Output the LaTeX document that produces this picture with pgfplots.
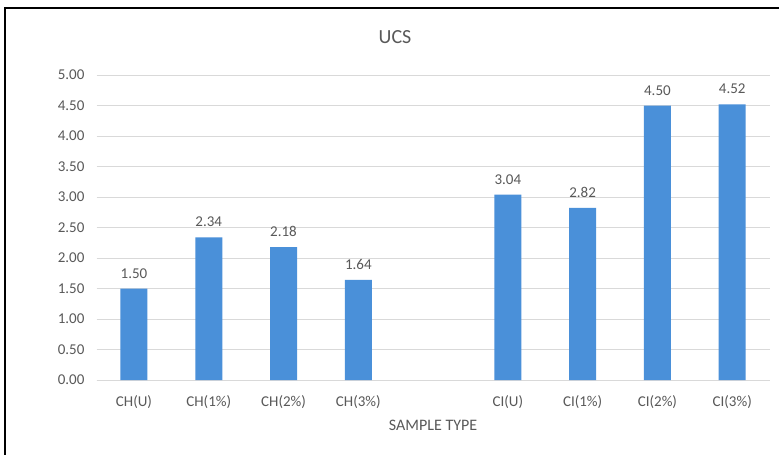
\documentclass[border=0pt]{standalone}
\usepackage{fontspec}
\setmainfont{Carlito}
\usepackage{pgfplots}
\pgfplotsset{compat=1.18}
\usetikzlibrary{backgrounds}
\definecolor{barblue}{HTML}{4A90D9}
\definecolor{txtgray}{HTML}{595959}
\definecolor{gridgray}{HTML}{D9D9D9}
\begin{document}
\begin{tikzpicture}
\begin{axis}[
  name=ax,
  scale only axis, width=673pt, height=305pt,
  xmin=-0.5, xmax=8.5, ymin=0, ymax=5,
  ybar, bar width=27pt,
  axis x line*=bottom, axis y line*=left,
  x axis line style={draw=gridgray, line width=0.8pt},
  y axis line style={draw=none},
  major tick length=0pt,
  ymajorgrids, grid style={gridgray, line width=0.8pt},
  ytick={0,0.5,1,1.5,2,2.5,3,3.5,4,4.5,5},
  /pgf/number format/fixed,
  /pgf/number format/fixed zerofill,
  /pgf/number format/precision=2,
  /pgf/number format/assume math mode=true,
  yticklabel style={text=txtgray, font=\fontsize{15}{18}\selectfont, inner sep=0pt, xshift=-12pt, anchor=east},
  xtick={0,1,2,3,5,6,7,8},
  xticklabels={CH(U),CH(1\%),CH(2\%),CH(3\%),CI(U),CI(1\%),CI(2\%),CI(3\%)},
  xticklabel style={text=txtgray, font=\fontsize{15}{18}\selectfont, inner sep=0pt, anchor=north, yshift=-15pt},
  xlabel={SAMPLE TYPE},
  xlabel style={text=txtgray, font=\fontsize{16}{19}\selectfont, at={(axis description cs:0.5,0)}, anchor=center, yshift=-45pt},
  nodes near coords,
  point meta=y,
  nodes near coords style={text=txtgray, font=\fontsize{15}{18}\selectfont, inner sep=0pt, anchor=south, yshift=10pt},
  clip=false,
]
\addplot[fill=barblue, draw=none] coordinates {
  (0,1.50) (1,2.34) (2,2.18) (3,1.64)
  (5,3.04) (6,2.82) (7,4.50) (8,4.52)
};
\end{axis}
% chart frame and title, placed relative to the plot area
\begin{scope}[shift={(ax.south west)}, x=1pt, y=1pt, shift={(-96.6,-75)}]
  \begin{scope}[on background layer]
    \fill[white] (0,0) rectangle (779,455);
  \end{scope}
  \draw[black, line width=1.8pt] (5,0) -- (5,447) -- (779,447);
  \node[text=txtgray, font=\fontsize{20}{24}\selectfont] at (395,418) {UCS};
  \pgfresetboundingbox
  \path[use as bounding box] (0,0) rectangle (779,455);
\end{scope}
\end{tikzpicture}
\end{document}
